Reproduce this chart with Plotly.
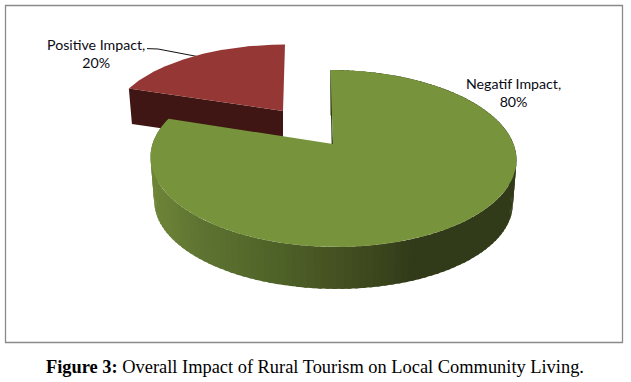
import numpy as np
import plotly.graph_objects as go

categories = ["Negatif Impact", "Positive Impact"]
values = [80, 20]
top_colors = ["#77933c", "#953735"]
wall_colors = ["#323b19", "#3f1614"]
caption_bold = "Figure 3:"
caption_text = " Overall Impact of Rural Tourism on Local Community Living."

W, H = 631, 382
# projection of each slice: apex px, radius, vertical radius, perspective, skew, wall drop, wall scale
GREEN = dict(cx=333, cy=144, R=180.5, A=86.1, k=0.164, sk=-3, drop=44, sc=0.98)
RED = dict(cx=283, cy=111, R=170, A=76, k=0.143, sk=2.3, drop=35, sc=0.98)


def project(p, deg, r=1.0, lower=False):
    t = np.radians(deg)
    u, v = r * np.sin(t), r * np.cos(t)
    s = 1 / (1 + p["k"] * v)
    f = p["sc"] if lower else 1.0
    x = p["cx"] + f * p["R"] * u * s + p["sk"] * v * s
    y = p["cy"] + (p["drop"] if lower else 0) - f * p["A"] * v * s
    return x, y


def wedge(p, a0, a1, lower=False):
    deg = np.linspace(a0, a1, 200)
    x, y = project(p, deg, 1.0, lower)
    ax, ay = project(p, 0.0, 0.0, lower)
    return np.r_[ax, x, ax], np.r_[ay, y, ay]


def poly(x, y, color):
    return go.Scatter(x=list(x), y=list(y), mode="lines", fill="toself", fillcolor=color,
                      line=dict(width=0, color=color), hoverinfo="skip", showlegend=False)


stops_x = [150, 170, 200, 270, 330, 390, 410, 520]
stops_rgb = np.array([[0x6e, 0x86, 0x38], [0x6a, 0x80, 0x36], [0x5f, 0x74, 0x32], [0x50, 0x64, 0x29],
                      [0x46, 0x53, 0x22], [0x38, 0x42, 0x1c], [0x32, 0x3b, 0x19], [0x32, 0x3b, 0x19]])


def wall_shade(x):
    rgb = [np.interp(x, stops_x, stops_rgb[:, i]) for i in range(3)]
    return "rgb(%d,%d,%d)" % tuple(int(c) for c in rgb)


total = sum(values)
sweep_green = 360 * values[0] / total
sweep_red = 360 * values[1] / total

fig = go.Figure()

# leader line for the small slice (hidden behind it at the far end)
fig.add_trace(go.Scatter(x=[147, 158, 200], y=[48.6, 49, 57], mode="lines",
                         line=dict(color="#111111", width=1), hoverinfo="skip", showlegend=False))

# small slice: wall then top
a0, a1 = sweep_green, sweep_green + sweep_red
ux, uy = project(RED, a0)
lx, ly = project(RED, a0, lower=True)
ax, ay = project(RED, 0.0, 0.0)
bx, by = project(RED, 0.0, 0.0, lower=True)
fig.add_trace(poly([ux, ax, bx, lx, ux], [uy, ay, by, ly, uy], wall_colors[1]))
fig.add_trace(poly(*wedge(RED, a0, a1), top_colors[1]))

# large slice: side wall strips, cut-face sliver, then top
edges = np.linspace(0, sweep_green, 145)
for e0, e1 in zip(edges[:-1], edges[1:]):
    d = np.linspace(e0, min(e1 + 1.0, sweep_green), 6)
    xu, yu = project(GREEN, d)
    xl, yl = project(GREEN, d, lower=True)
    fig.add_trace(poly(np.r_[xu, xl[::-1]], np.r_[yu, yl[::-1]], wall_shade(float(np.mean(xl)))))

tx, ty = project(GREEN, 0.0)
cx0, cy0 = project(GREEN, 0.0, 0.0)
fig.add_trace(poly([tx, cx0, cx0 - 1.4, tx - 0.3], [ty, cy0, cy0, ty], wall_colors[0]))
fig.add_trace(poly(*wedge(GREEN, 0, sweep_green), top_colors[0]))

LABEL = dict(family="Lato, Open Sans, sans-serif", size=14.2, color="#0a0a14")
fig.add_annotation(x=96, y=53.3, text=f"{categories[1]},<br>{values[1]}%", showarrow=False,
                   font=LABEL, align="center", xanchor="center", yanchor="middle")
fig.add_annotation(x=513, y=92.2, text=f"{categories[0]},<br>{values[0]}%", showarrow=False,
                   font=LABEL, align="center", xanchor="center", yanchor="middle")
fig.add_annotation(x=314.5, y=367, text=f"<b>{caption_bold}</b>{caption_text}", showarrow=False,
                   font=dict(family="Liberation Serif, serif", size=18.4, color="#000000"),
                   xanchor="center", yanchor="middle")

fig.update_layout(
    width=W, height=H, margin=dict(l=0, r=0, t=0, b=0), autosize=False,
    paper_bgcolor="white", plot_bgcolor="white", showlegend=False,
    xaxis=dict(range=[0, W], visible=False, fixedrange=True),
    yaxis=dict(range=[H, 0], visible=False, fixedrange=True),
    shapes=[dict(type="rect", x0=5.5, y0=5.5, x1=622.5, y1=342.5,
                 line=dict(color="#8a8a8a", width=1.3), fillcolor="rgba(0,0,0,0)", layer="below")],
)
fig.write_html("out.html", config={"displayModeBar": False},
               post_script="document.body.style.margin='0';document.documentElement.style.overflow='hidden';")
